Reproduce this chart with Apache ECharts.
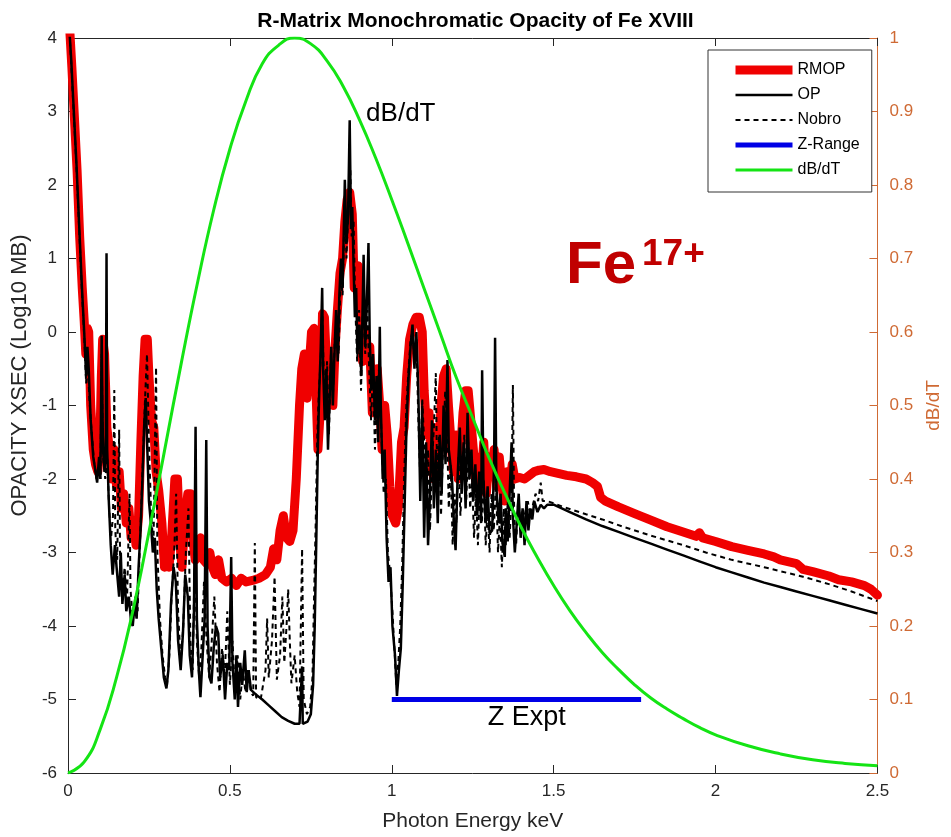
<!DOCTYPE html>
<html>
<head>
<meta charset="utf-8">
<script src="https://cdn.jsdelivr.net/npm/echarts@6/dist/echarts.min.js"></script>
<style>
html,body{margin:0;padding:0;background:#fff;}
#main{width:951px;height:837px;}
</style>
</head>
<body>
<div id="main"></div>
<script>
// ---- DATA ----
const xTicks = [0, 0.5, 1, 1.5, 2, 2.5];
const seriesNames = ['RMOP', 'OP', 'Nobro', 'Z-Range', 'dB/dT'];

// RMOP: [photon energy keV, log10 opacity]
const rmop = [
[0.003,4.3],[0.012,3.6],[0.020,2.9],[0.028,2.2],[0.036,1.3],[0.044,0.6],[0.050,0.15],[0.055,-0.3],[0.060,0.05],[0.064,0.0],
[0.070,-1.0],[0.078,-1.6],[0.085,-1.8],[0.092,-1.9],[0.098,-1.6],[0.103,-0.6],[0.107,-0.1],[0.113,-0.3],[0.120,-1.3],[0.128,-1.6],
[0.135,-2.0],[0.142,-1.6],[0.150,-2.1],[0.158,-1.9],[0.165,-2.4],[0.172,-2.2],[0.180,-2.6],[0.188,-2.4],[0.195,-2.8],[0.203,-2.6],
[0.210,-2.9],[0.218,-2.5],[0.225,-1.5],[0.232,-0.6],[0.238,-0.1],[0.245,-0.1],[0.250,-0.6],[0.258,-1.2],[0.265,-1.3],[0.272,-1.9],
[0.280,-2.15],[0.290,-2.6],[0.298,-3.2],[0.306,-3.1],[0.312,-3.2],[0.320,-2.8],[0.330,-2.0],[0.338,-2.0],[0.346,-2.9],[0.352,-3.2],
[0.360,-2.6],[0.370,-2.2],[0.378,-2.2],[0.385,-2.8],[0.393,-3.1],[0.400,-2.9],[0.410,-2.8],[0.418,-3.1],[0.428,-3.15],[0.438,-3.0],
[0.446,-3.2],[0.455,-3.3],[0.465,-3.1],[0.475,-3.35],[0.490,-3.4],[0.505,-3.35],[0.520,-3.45],[0.535,-3.35],[0.550,-3.4],[0.570,-3.38],
[0.590,-3.35],[0.610,-3.3],[0.625,-3.2],[0.635,-2.95],[0.645,-3.1],[0.655,-2.7],[0.665,-2.5],[0.675,-2.8],[0.685,-2.85],[0.695,-2.7],
[0.705,-2.0],[0.715,-1.0],[0.722,-0.5],[0.730,-0.3],[0.738,-0.9],[0.746,-0.4],[0.752,0.0],[0.760,0.05],[0.766,-0.8],[0.772,-1.6],
[0.780,-1.0],[0.786,0.25],[0.792,0.2],[0.798,-0.4],[0.804,-0.7],[0.810,-0.3],[0.818,-1.0],[0.825,-0.2],[0.832,0.3],[0.840,0.8],
[0.848,1.0],[0.855,1.5],[0.862,1.8],[0.870,1.9],[0.878,1.6],[0.884,0.6],[0.890,0.8],[0.896,0.9],[0.902,0.3],[0.910,-0.4],
[0.918,0.0],[0.925,-0.3],[0.932,-0.2],[0.940,-1.1],[0.948,-0.9],[0.955,-0.5],[0.962,-0.95],[0.970,-1.6],[0.978,-1.0],[0.986,-1.4],
[0.994,-2.1],[1.002,-2.5],[1.012,-2.6],[1.020,-2.4],[1.030,-1.5],[1.038,-1.3],[1.046,-0.6],[1.055,-0.1],[1.065,0.1],[1.075,0.2],
[1.085,0.2],[1.094,0.0],[1.100,-0.8],[1.108,-1.4],[1.115,-1.1],[1.122,-1.8],[1.130,-2.0],[1.138,-1.3],[1.145,-1.7],[1.152,-1.0],
[1.160,-0.6],[1.168,-0.5],[1.175,-1.0],[1.183,-1.5],[1.190,-1.9],[1.198,-1.4],[1.205,-2.0],[1.213,-1.6],[1.220,-1.1],[1.228,-0.8],
[1.236,-0.8],[1.244,-1.2],[1.252,-1.6],[1.260,-2.1],[1.268,-1.7],[1.276,-2.0],[1.284,-1.5],[1.292,-2.2],[1.300,-1.7],[1.308,-1.9],
[1.316,-1.6],[1.324,-2.1],[1.332,-1.7],[1.340,-2.1],[1.348,-2.3],[1.356,-1.9],[1.364,-2.1],[1.372,-1.8],[1.380,-2.0],[1.395,-1.98],
[1.410,-2.0],[1.425,-1.95],[1.440,-1.9],[1.455,-1.88],[1.470,-1.87],[1.490,-1.9],[1.510,-1.92],[1.540,-1.95],[1.570,-1.97],[1.600,-2.0],
[1.620,-2.05],[1.635,-2.1],[1.645,-2.25],[1.660,-2.3],[1.700,-2.38],[1.750,-2.47],[1.800,-2.56],[1.850,-2.65],[1.900,-2.72],[1.940,-2.78],
[1.950,-2.73],[1.960,-2.8],[2.000,-2.85],[2.050,-2.92],[2.100,-2.97],[2.150,-3.02],[2.180,-3.06],[2.200,-3.1],[2.250,-3.15],[2.270,-3.23],
[2.300,-3.26],[2.350,-3.32],[2.380,-3.37],[2.420,-3.4],[2.460,-3.45],[2.480,-3.5],[2.500,-3.58]
];

// OP (solid black)
const op = [
[0.003,4.2],[0.010,3.7],[0.018,3.0],[0.026,2.3],[0.034,1.5],[0.042,0.7],[0.050,0.0],[0.056,-0.6],[0.060,-0.2],[0.064,-0.5],
[0.070,-1.2],[0.078,-1.7],[0.085,-1.9],[0.090,-2.05],[0.096,-1.7],[0.100,-2.0],[0.104,-0.05],[0.108,-1.6],[0.113,-1.9],[0.117,-1.4],
[0.119,1.07],[0.121,-1.6],[0.126,-2.3],[0.132,-2.9],[0.138,-3.3],[0.145,-2.9],[0.150,-3.2],[0.158,-3.6],[0.163,-3.0],[0.168,-3.7],
[0.175,-3.3],[0.180,-3.8],[0.188,-3.6],[0.195,-3.95],[0.200,-4.0],[0.206,-3.7],[0.212,-3.9],[0.218,-3.2],[0.224,-2.7],[0.230,-2.0],
[0.235,-1.3],[0.240,-0.9],[0.245,-1.6],[0.250,-2.3],[0.256,-2.6],[0.262,-3.0],[0.268,-2.8],[0.274,-3.5],[0.280,-3.9],[0.288,-4.3],
[0.296,-4.7],[0.304,-4.85],[0.310,-4.6],[0.318,-3.7],[0.326,-3.2],[0.333,-3.4],[0.340,-4.2],[0.348,-4.6],[0.355,-4.1],[0.362,-3.3],
[0.370,-3.6],[0.376,-4.4],[0.383,-4.7],[0.389,-3.8],[0.394,-1.29],[0.398,-3.9],[0.404,-4.6],[0.409,-4.97],[0.416,-4.4],[0.422,-3.9],
[0.427,-1.47],[0.431,-4.0],[0.437,-4.7],[0.443,-4.78],[0.450,-4.3],[0.457,-4.0],[0.464,-4.1],[0.470,-4.7],[0.478,-4.4],[0.485,-5.0],
[0.492,-4.5],[0.498,-4.6],[0.504,-3.06],[0.508,-4.5],[0.515,-5.0],[0.520,-4.4],[0.525,-5.1],[0.532,-4.5],[0.538,-4.8],[0.546,-4.33],
[0.552,-4.9],[0.558,-4.6],[0.565,-4.87],[0.580,-4.93],[0.600,-5.0],[0.620,-5.08],[0.640,-5.16],[0.660,-5.24],[0.680,-5.29],[0.700,-5.33],
[0.715,-5.33],[0.721,-5.33],[0.723,-4.55],[0.725,-5.33],[0.740,-5.3],[0.750,-5.2],[0.757,-4.8],[0.762,-4.0],[0.767,-2.8],[0.772,-1.5],
[0.776,-0.8],[0.780,-0.3],[0.785,0.6],[0.788,-0.5],[0.793,-1.2],[0.798,-0.5],[0.803,-1.6],[0.808,-0.9],[0.813,-0.2],[0.818,-1.0],
[0.823,-0.3],[0.828,0.3],[0.833,-0.4],[0.838,0.5],[0.843,1.0],[0.848,0.6],[0.855,2.07],[0.860,1.2],[0.865,1.6],[0.870,2.88],
[0.874,1.4],[0.878,1.7],[0.882,0.9],[0.886,0.2],[0.890,0.6],[0.894,-0.3],[0.900,0.1],[0.906,-0.6],[0.913,1.05],[0.918,-0.2],
[0.923,0.4],[0.928,1.21],[0.932,-0.1],[0.937,-0.8],[0.942,-0.3],[0.948,-1.2],[0.953,-0.6],[0.958,-1.5],[0.963,0.07],[0.966,-1.0],
[0.972,-2.0],[0.978,-1.6],[0.984,-2.8],[0.990,-3.4],[0.996,-3.2],[1.002,-4.0],[1.010,-4.4],[1.016,-4.95],[1.022,-4.6],[1.028,-4.3],
[1.034,-3.4],[1.040,-2.3],[1.046,-1.2],[1.052,-0.6],[1.058,-0.2],[1.064,0.1],[1.070,-0.5],[1.076,0.0],[1.082,-0.8],[1.088,-2.3],
[1.094,-1.0],[1.100,-2.8],[1.106,-1.5],[1.112,-2.9],[1.118,-2.2],[1.124,-1.2],[1.130,-2.4],[1.136,-1.6],[1.142,-2.6],[1.148,-1.4],
[1.154,-2.2],[1.160,-1.0],[1.166,-1.8],[1.172,-0.38],[1.176,-1.6],[1.186,-2.0],[1.192,-2.6],[1.197,-2.97],[1.203,-2.0],[1.210,-1.3],
[1.216,-2.2],[1.222,-1.5],[1.228,-2.4],[1.234,-1.1],[1.240,-2.0],[1.246,-1.6],[1.252,-2.3],[1.258,-1.8],[1.264,-2.5],[1.270,-1.9],
[1.276,-2.6],[1.279,-0.52],[1.283,-2.0],[1.290,-2.6],[1.296,-2.1],[1.302,-2.74],[1.310,-2.7],[1.316,-1.8],[1.319,-0.08],[1.323,-2.1],
[1.330,-2.6],[1.336,-2.2],[1.342,-2.87],[1.349,-3.06],[1.352,-2.4],[1.358,-2.85],[1.364,-2.2],[1.370,-1.5],[1.374,-2.5],[1.380,-3.0],
[1.386,-2.6],[1.392,-2.2],[1.398,-2.8],[1.404,-2.4],[1.410,-2.9],[1.416,-2.3],[1.422,-2.7],[1.428,-2.4],[1.434,-2.55],[1.440,-2.3],
[1.450,-2.45],[1.460,-2.35],[1.470,-2.4],[1.480,-2.35],[1.500,-2.35],[1.520,-2.39],[1.550,-2.45],[1.600,-2.55],[1.650,-2.64],[1.700,-2.72],
[1.750,-2.8],[1.800,-2.88],[1.850,-2.96],[1.900,-3.04],[1.950,-3.12],[2.000,-3.2],[2.050,-3.27],[2.100,-3.34],[2.150,-3.41],[2.200,-3.47],
[2.250,-3.53],[2.300,-3.59],[2.350,-3.65],[2.400,-3.71],[2.450,-3.77],[2.500,-3.83]
];

// Nobro (dashed black)
const nobro = [
[0.003,4.2],[0.010,3.65],[0.018,2.95],[0.026,2.25],[0.034,1.45],[0.042,0.65],[0.050,-0.05],[0.056,-0.7],[0.060,-0.3],[0.066,-0.9],
[0.072,-1.3],[0.080,-1.75],[0.088,-2.0],[0.095,-1.8],[0.100,-2.0],[0.104,-0.3],[0.108,-1.7],[0.115,-2.0],[0.121,-1.7],[0.127,-2.4],
[0.133,-2.8],[0.139,-2.5],[0.143,-0.79],[0.146,-2.7],[0.152,-3.1],[0.158,-1.33],[0.161,-3.2],[0.168,-3.5],[0.175,-3.2],[0.182,-3.7],
[0.190,-2.2],[0.193,-3.5],[0.200,-3.9],[0.208,-3.6],[0.215,-3.8],[0.222,-2.9],[0.230,-1.9],[0.238,-0.9],[0.244,-0.3],[0.250,-1.5],
[0.257,-2.5],[0.264,-2.9],[0.272,-0.48],[0.276,-3.0],[0.284,-3.9],[0.292,-4.4],[0.300,-4.7],[0.306,-4.8],[0.313,-4.4],[0.320,-3.6],
[0.328,-3.0],[0.334,-2.2],[0.340,-3.8],[0.348,-4.5],[0.356,-4.0],[0.364,-3.0],[0.372,-2.4],[0.378,-4.2],[0.385,-4.6],[0.392,-2.9],
[0.398,-4.2],[0.405,-4.7],[0.412,-4.3],[0.420,-3.4],[0.428,-4.2],[0.436,-4.7],[0.444,-4.2],[0.452,-3.6],[0.460,-4.5],[0.468,-4.9],
[0.476,-4.3],[0.484,-4.7],[0.492,-3.8],[0.500,-4.8],[0.508,-4.2],[0.516,-4.9],[0.524,-4.4],[0.532,-5.0],[0.540,-4.6],[0.548,-4.9],
[0.556,-4.6],[0.565,-4.9],[0.572,-4.95],[0.577,-2.87],[0.581,-4.97],[0.595,-5.0],[0.610,-4.6],[0.615,-3.9],[0.620,-4.7],[0.630,-4.2],
[0.638,-3.33],[0.645,-4.73],[0.655,-4.4],[0.662,-3.6],[0.668,-4.5],[0.675,-4.0],[0.680,-3.5],[0.685,-4.2],[0.690,-4.78],[0.700,-4.4],
[0.708,-4.9],[0.715,-5.1],[0.723,-2.95],[0.728,-5.0],[0.738,-5.2],[0.748,-5.1],[0.755,-4.7],[0.760,-3.6],[0.765,-2.6],[0.770,-1.4],
[0.775,-0.8],[0.780,-0.4],[0.785,0.3],[0.790,-0.6],[0.795,-1.1],[0.800,-0.4],[0.806,-1.4],[0.812,-0.3],[0.818,-0.9],[0.824,-0.1],
[0.830,0.2],[0.836,-0.3],[0.842,0.8],[0.848,0.5],[0.855,1.8],[0.860,1.0],[0.866,1.7],[0.872,2.2],[0.876,1.3],[0.882,1.5],
[0.887,0.4],[0.893,-0.4],[0.899,0.3],[0.905,-0.8],[0.912,0.5],[0.918,-0.3],[0.925,0.3],[0.930,-0.5],[0.936,-1.2],[0.942,-0.5],
[0.948,-1.6],[0.955,-0.9],[0.962,-0.4],[0.968,-1.4],[0.975,-2.2],[0.982,-2.0],[0.988,-3.0],[0.995,-3.3],[1.002,-3.8],[1.008,-4.3],
[1.014,-4.8],[1.020,-4.5],[1.026,-4.0],[1.032,-3.2],[1.038,-2.0],[1.045,-1.0],[1.052,-0.5],[1.058,-0.1],[1.064,0.0],[1.070,-0.4],
[1.076,-0.1],[1.082,-1.2],[1.088,-2.0],[1.094,-0.9],[1.100,-1.5],[1.106,-2.4],[1.112,-1.6],[1.118,-2.7],[1.124,-1.8],[1.130,-1.3],
[1.136,-0.56],[1.140,-2.0],[1.146,-1.4],[1.152,-2.5],[1.158,-1.6],[1.165,-0.8],[1.170,-1.2],[1.176,-2.4],[1.182,-1.8],[1.188,-2.9],
[1.194,-2.2],[1.200,-2.6],[1.206,-1.7],[1.212,-2.5],[1.218,-1.9],[1.224,-1.4],[1.230,-2.3],[1.236,-1.5],[1.242,-2.4],[1.248,-2.0],
[1.254,-2.8],[1.260,-2.2],[1.266,-2.9],[1.272,-2.1],[1.278,-2.6],[1.284,-2.0],[1.290,-2.9],[1.296,-2.4],[1.302,-3.0],[1.308,-2.2],
[1.315,-2.7],[1.322,-2.0],[1.328,-3.0],[1.334,-2.5],[1.340,-3.2],[1.346,-2.4],[1.352,-2.9],[1.358,-2.3],[1.364,-2.8],[1.370,-2.2],
[1.374,-0.72],[1.378,-2.5],[1.384,-2.9],[1.390,-2.3],[1.398,-2.6],[1.405,-2.4],[1.412,-2.55],[1.420,-2.3],[1.428,-2.5],[1.436,-2.35],
[1.444,-2.2],[1.452,-2.3],[1.460,-2.05],[1.466,-2.3],[1.480,-2.3],[1.500,-2.33],[1.530,-2.38],[1.600,-2.48],[1.650,-2.55],[1.715,-2.65],
[1.800,-2.77],[1.900,-2.9],[1.970,-3.0],[2.050,-3.1],[2.150,-3.2],[2.270,-3.33],[2.350,-3.43],[2.420,-3.53],[2.500,-3.66]
];

// Z-Range bar (keV range of the Z experiment, at log opacity -5)
const zRange = [[1.0,-5],[1.77,-5]];

// dB/dT (normalised, right axis)
const dbdtEnergy = [0,0.05,0.1,0.15,0.2,0.25,0.3,0.35,0.4,0.45,0.5,0.55,0.6,0.65,0.7,0.75,0.8,0.85,0.9,0.95,1.0,1.05,1.1,1.15,1.2,1.25,1.3,1.35,1.4,1.45,1.5,1.55,1.6,1.65,1.7,1.75,1.8,1.85,1.9,1.95,2.0,2.1,2.2,2.3,2.4,2.5];
const dbdtValue  = [0,0.015,0.06,0.13,0.22,0.328,0.443,0.558,0.667,0.766,0.849,0.915,0.965,0.99,1.0,0.992,0.969,0.934,0.889,0.837,0.78,0.72,0.659,0.598,0.537,0.483,0.429,0.38,0.334,0.293,0.255,0.221,0.191,0.164,0.141,0.12,0.102,0.087,0.074,0.062,0.052,0.037,0.026,0.018,0.013,0.01];

// annotations (data coordinates)
const noteDbdt = [1.035, 2.98];
const noteZ = [1.42, -5.25];

// ---- CHART ----
const FONT = "'Liberation Sans', Arial, sans-serif";
const ORANGE = '#cf6a34';
const AX = '#262626';
const chart = echarts.init(document.getElementById('main'));

const option = {
  animation: false,
  backgroundColor: '#ffffff',
  textStyle: {fontFamily: FONT},
  title: {
    text: 'R-Matrix Monochromatic Opacity of Fe XVIII',
    left: 'center', top: 6,
    textStyle: {fontFamily: FONT, fontSize: 21, fontWeight: 'bold', color: '#000'}
  },
  grid: {left: 68, right: 64, top: 38, bottom: 64, containLabel: false},
  legend: {
    data: seriesNames,
    orient: 'vertical',
    left: 708, top: 50,
    itemWidth: 57, itemHeight: 16, itemGap: 9,
    padding: [12, 12, 14, 23],
    borderColor: '#333', borderWidth: 1,
    backgroundColor: '#fff',
    itemStyle: {opacity: 0},
    lineStyle: {width: 'inherit', cap: 'butt'},
    textStyle: {fontFamily: FONT, fontSize: 16, color: '#000'}
  },
  xAxis: [{
    type: 'value', min: 0, max: 2.5, interval: 0.5,
    name: 'Photon Energy keV', nameLocation: 'middle', nameGap: 38,
    nameTextStyle: {fontFamily: FONT, fontSize: 21, color: '#262626'},
    axisLine: {show: true, onZero: false, lineStyle: {color: AX, width: 1}},
    axisTick: {show: true, inside: true, length: 8, lineStyle: {color: AX}},
    axisLabel: {fontFamily: FONT, fontSize: 17, color: '#262626', margin: 10},
    splitLine: {show: false}
  },{
    type: 'value', min: 0, max: 2.5, interval: 0.5, position: 'top',
    axisLine: {show: true, onZero: false, lineStyle: {color: AX, width: 1}},
    axisTick: {show: true, inside: true, length: 8, lineStyle: {color: AX}},
    axisLabel: {show: false}, splitLine: {show: false}
  }],
  yAxis: [{
    type: 'value', min: -6, max: 4, interval: 1, position: 'left',
    name: 'OPACITY XSEC (Log10 MB)', nameLocation: 'middle', nameGap: 30,
    nameTextStyle: {fontFamily: FONT, fontSize: 22, color: '#262626', padding: [0, 0, 0, 60]},
    axisLine: {show: true, onZero: false, lineStyle: {color: AX, width: 1}},
    axisTick: {show: true, inside: true, length: 8, lineStyle: {color: AX}},
    axisLabel: {fontFamily: FONT, fontSize: 17, color: '#262626', margin: 11},
    splitLine: {show: false}
  },{
    type: 'value', min: 0, max: 1, interval: 0.1, position: 'right',
    name: 'dB/dT', nameLocation: 'middle', nameGap: 44,
    nameTextStyle: {fontFamily: FONT, fontSize: 19, color: ORANGE},
    axisLine: {show: true, onZero: false, lineStyle: {color: ORANGE, width: 1}},
    axisTick: {show: true, inside: true, length: 8, lineStyle: {color: ORANGE}},
    axisLabel: {fontFamily: FONT, fontSize: 17, color: ORANGE, margin: 12,
      formatter: v => String(Math.round(v * 10) / 10)},
    splitLine: {show: false}
  }],
  series: [
    {name: 'RMOP', type: 'line', data: rmop, symbol: 'none', z: 2,
     lineStyle: {color: '#f00000', width: 9, join: 'round', cap: 'round'}, itemStyle: {color: '#f00000'}},
    {name: 'OP', type: 'line', data: op, symbol: 'none', z: 3,
     lineStyle: {color: '#000', width: 2.5}, itemStyle: {color: '#000'}},
    {name: 'Nobro', type: 'line', data: nobro, symbol: 'none', z: 4,
     lineStyle: {color: '#000', width: 2, type: [5, 4]}, itemStyle: {color: '#000'}},
    {name: 'Z-Range', type: 'line', data: zRange, symbol: 'none', z: 6,
     lineStyle: {color: '#0000e6', width: 5}, itemStyle: {color: '#0000e6'}},
    {name: 'dB/dT', type: 'line', yAxisIndex: 1, data: dbdtEnergy.map((e, i) => [e, dbdtValue[i]]),
     symbol: 'none', smooth: true, z: 5,
     lineStyle: {color: '#14e414', width: 3}, itemStyle: {color: '#14e414'}}
  ]
};
chart.setOption(option);

const pD = chart.convertToPixel({xAxisIndex: 0, yAxisIndex: 0}, noteDbdt);
const pZ = chart.convertToPixel({xAxisIndex: 0, yAxisIndex: 0}, noteZ);
chart.setOption({
  graphic: [
    {type: 'text', left: pD[0] - 37, top: pD[1] - 12, z: 20,
     style: {text: 'dB/dT', fontFamily: FONT, fontSize: 26, fill: '#000'}},
    {type: 'text', left: pZ[0] - 40, top: pZ[1] - 14, z: 20,
     style: {text: 'Z Expt', fontFamily: FONT, fontSize: 27, fill: '#000'}},
    {type: 'text', left: 566, top: 236, z: 20,
     style: {text: 'Fe', fontFamily: FONT, fontSize: 60, fontWeight: 'bold', fill: '#c00000'}},
    {type: 'text', left: 642, top: 236, z: 20,
     style: {text: '17+', fontFamily: FONT, fontSize: 37, fontWeight: 'bold', fill: '#c00000'}}
  ]
});
</script>
</body>
</html>
